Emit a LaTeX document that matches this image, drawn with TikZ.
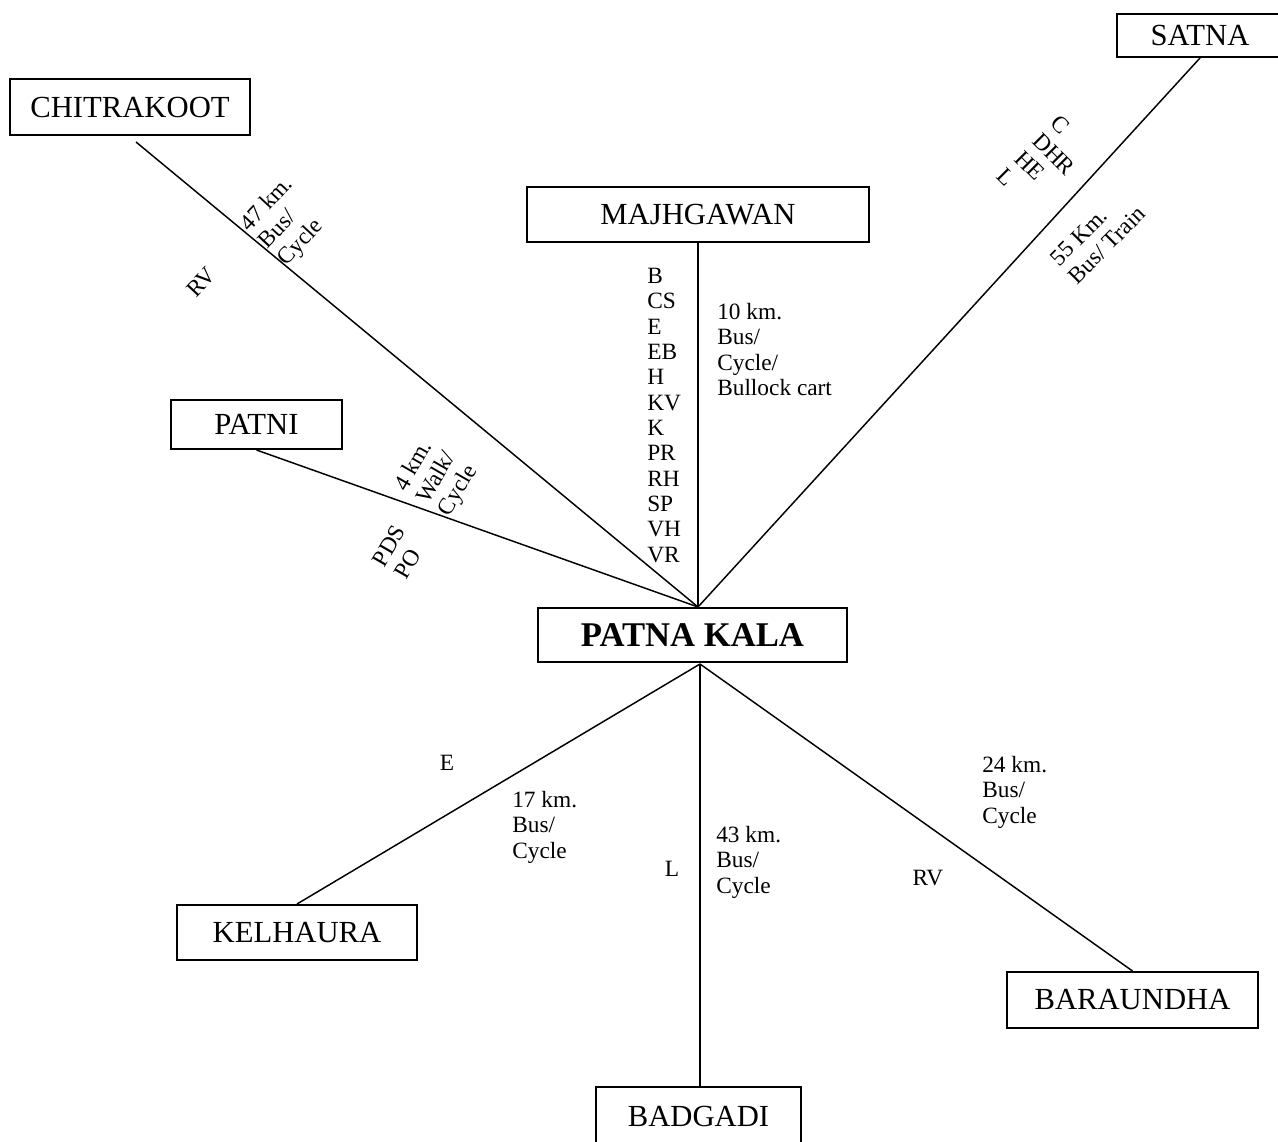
\documentclass[tikz,border=0pt]{standalone}
\usepackage{fontspec}
\setmainfont{Liberation Serif}
\tikzset{
  place/.style={draw, line width=1.5pt, inner sep=0pt, font=\fontsize{23}{26}\selectfont},
  route/.style={line width=1.1pt},
  note/.style={inner sep=0.75pt, align=left, font=\fontsize{17.5}{19}\selectfont}
}
\begin{document}
\begin{tikzpicture}[x=0.75pt,y=0.75pt,yscale=-1,xscale=1]
	\useasboundingbox (0,0) rectangle (1278,1142);
	
	% Places
	\draw (130,107) node (chitrakoot) [place, minimum width=180pt, minimum height=42pt] {CHITRAKOOT};
	\draw (1200,35.5) node (satna) [place, minimum width=124.5pt, minimum height=32.25pt] {SATNA};
	\draw (698,214.5) node (majhgawan) [place, minimum width=256.5pt, minimum height=41.25pt] {MAJHGAWAN};
	\draw (256.5,424.5) node (patni) [place, minimum width=128.25pt, minimum height=36.75pt] {PATNI};
	\draw (692.5,635) node (patnakala) [place, minimum width=231.75pt, minimum height=40.5pt, font=\fontsize{26}{28}\selectfont\bfseries] {PATNA KALA};
	\draw (297,932.5) node (kelhaura) [place, minimum width=180pt, minimum height=41.25pt] {KELHAURA};
	\draw (698.5,1116) node (badgadi) [place, minimum width=153.75pt, minimum height=43.5pt] {BADGADI};
	\draw (1132.5,1000) node (baraundha) [place, minimum width=188.25pt, minimum height=42pt] {BARAUNDHA};
	
	\coordinate (hubN) at (698,607);
	\coordinate (hubS) at (700,664);
	
	%Straight Lines 
	\draw [route] ([xshift=4.5pt,yshift=4.5pt]chitrakoot.south) -- (hubN) ;
	%Straight Lines 
	\draw [route] (satna.south) -- (hubN) ;
	%Straight Lines 
	\draw [route] (majhgawan.south) -- (hubN) ;
	%Straight Lines 
	\draw [route] (patni.south) -- (hubN) ;
	%Straight Lines 
	\draw [route] (hubS) -- (kelhaura.north) ;
	%Straight Lines 
	\draw [route] (hubS) -- (hubS |- badgadi.north) ;
	%Straight Lines 
	\draw [route] (hubS) -- (baraundha.north) ;
	
	% Text Node
	\draw (286,222) node (chitrakootnote) [note, rotate=47] {47 km.\\Bus/\\Cycle};
	% Text Node
	\draw (201,282) node (chitrakootrv) [note, rotate=47] {RV};
	% Text Node
	\draw (437,478) node (patninote) [note, rotate=60] {4 km.\\Walk/\\Cycle};
	% Text Node
	\draw (400,552) node (patnipds) [note, rotate=60] {PDS\\PO};
	% Text Node
	\draw (1098,236) node (satnanote) [note, rotate=45] {55 Km.\\Bus/ Train};
	% Text Node
	\draw (1045,163) node (satnacodes) [note, rotate=-45] {C\\DHR\\HE\\L};
	% Text Node
	\draw (646,267) node (majhgawancodes) [note, anchor=north west] {B\\CS\\E\\EB\\H\\KV\\K\\PR\\RH\\SP\\VH\\VR};
	% Text Node
	\draw (716,302) node (majhgawannote) [note, anchor=north west] {10 km.\\Bus/\\Cycle/\\Bullock cart};
	% Text Node
	\draw (447,763) node (kelhaurae) [note] {E};
	% Text Node
	\draw (511,790) node (kelhauranote) [note, anchor=north west] {17 km.\\Bus/\\Cycle};
	% Text Node
	\draw (672,869) node (badgadil) [note] {L};
	% Text Node
	\draw (715,825) node (badgadinote) [note, anchor=north west] {43 km.\\Bus/\\Cycle};
	% Text Node
	\draw (981,755) node (baraundhanote) [note, anchor=north west] {24 km.\\Bus/\\Cycle};
	% Text Node
	\draw (928,878) node (baraundharv) [note] {RV};
	
\end{tikzpicture}
\end{document}
